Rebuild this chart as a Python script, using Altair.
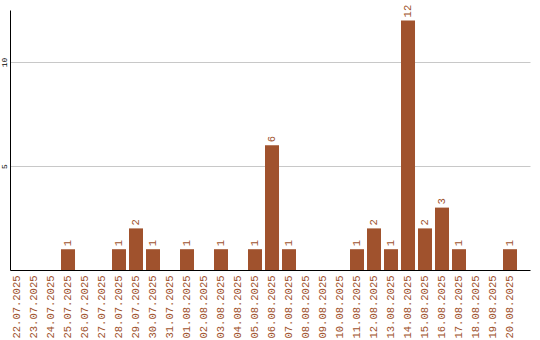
import altair as alt
import pandas as pd

dates = ["22.07.2025", "23.07.2025", "24.07.2025", "25.07.2025", "26.07.2025",
         "27.07.2025", "28.07.2025", "29.07.2025", "30.07.2025", "31.07.2025",
         "01.08.2025", "02.08.2025", "03.08.2025", "04.08.2025", "05.08.2025",
         "06.08.2025", "07.08.2025", "08.08.2025", "09.08.2025", "10.08.2025",
         "11.08.2025", "12.08.2025", "13.08.2025", "14.08.2025", "15.08.2025",
         "16.08.2025", "17.08.2025", "18.08.2025", "19.08.2025", "20.08.2025"]
values = [0, 0, 0, 1, 0,
          0, 1, 2, 1, 0,
          1, 0, 1, 0, 1,
          6, 1, 0, 0, 0,
          1, 2, 1, 12, 2,
          3, 1, 0, 0, 1]

df = pd.DataFrame({"date": dates, "value": values})
df["label"] = df["value"].apply(lambda v: str(v) if v > 0 else "")

COLOR = "#A0522D"
FONT = "Liberation Mono"

x = alt.X("date:N", sort=dates,
          scale=alt.Scale(paddingInner=0.176, paddingOuter=0.382, align=0),
          axis=alt.Axis(title=None, labelAngle=-90, labelColor=COLOR, labelFont=FONT,
                        labelFontSize=10.5, labelPadding=5, ticks=False,
                        domainColor="black", domainWidth=1, grid=False,
                        labelAlign="right", labelBaseline="middle"))
y = alt.Y("value:Q", scale=alt.Scale(domain=[0, 12.5], nice=False),
          axis=alt.Axis(title=None, values=[5, 10], ticks=False, labelAngle=-90,
                        labelFont=FONT, labelFontSize=8, labelColor="black",
                        labelPadding=2, labelAlign="center", labelBaseline="bottom",
                        domainColor="black", domainWidth=1,
                        gridColor="#c8c8c8", gridWidth=1))

base = alt.Chart(df)
bars = base.mark_bar(color=COLOR).encode(x=x, y=y)
text = base.mark_text(angle=270, align="left", baseline="middle", dx=3,
                      color=COLOR, font=FONT, fontSize=10.5).encode(
    x=alt.X("date:N", sort=dates), y="value:Q", text="label:N")

chart = (bars + text).properties(
    width=520, height=260,
    autosize=alt.AutoSizeParams(type="none"),
    padding={"left": 10, "top": 10, "right": 10, "bottom": 70},
    background="white",
).configure_view(stroke=None)

chart.save("out.html", embed_options={"renderer": "svg", "actions": False})
